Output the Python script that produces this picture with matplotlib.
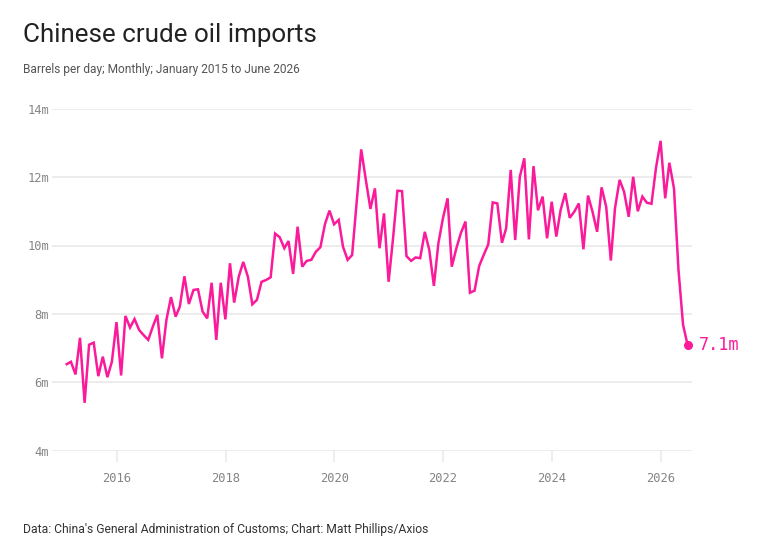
import numpy as np
import pandas as pd
import matplotlib
matplotlib.use("Agg")
import matplotlib.pyplot as plt
import matplotlib.dates as mdates

# monthly imports, million barrels per day (month-end dates)
months = pd.date_range("2015-01-31", periods=138, freq="ME")
imports = [
    6.53, 6.60, 6.23, 7.30, 5.40, 7.10, 7.16, 6.18, 6.75, 6.15, 6.60, 7.76,
    6.20, 7.94, 7.60, 7.85, 7.53, 7.38, 7.24, 7.63, 7.97, 6.70, 7.82, 8.49,
    7.92, 8.21, 9.10, 8.29, 8.70, 8.72, 8.07, 7.87, 8.91, 7.24, 8.91, 7.84,
    9.48, 8.33, 9.09, 9.52, 9.09, 8.28, 8.41, 8.94, 8.99, 9.07, 10.35, 10.24,
    9.92, 10.13, 9.17, 10.55, 9.38, 9.55, 9.58, 9.82, 9.95, 10.63, 11.02, 10.62,
    10.75, 9.96, 9.58, 9.72, 11.30, 12.81, 11.92, 11.07, 11.67, 9.92, 10.94, 8.94,
    10.26, 11.60, 11.59, 9.69, 9.55, 9.65, 9.63, 10.40, 9.87, 8.82, 10.06, 10.80,
    11.38, 9.38, 9.92, 10.36, 10.70, 8.62, 8.68, 9.40, 9.72, 10.03, 11.26, 11.23,
    10.08, 10.50, 12.21, 10.16, 12.01, 12.55, 10.18, 12.32, 11.03, 11.43, 10.21, 11.28,
    10.26, 11.04, 11.53, 10.81, 10.99, 11.23, 9.89, 11.46, 10.99, 10.40, 11.70, 11.13,
    9.56, 11.09, 11.92, 11.57, 10.84, 12.01, 11.00, 11.43, 11.25, 11.22, 12.26, 13.06,
    11.38, 12.42, 11.67, 9.30, 7.68, 7.10,
]
y_ticks = [4, 6, 8, 10, 12, 14]
y_labels = ["4m", "6m", "8m", "10m", "12m", "14m"]
x_years = [2016, 2018, 2020, 2022, 2024, 2026]
end_label = "7.1m"

pink = "#fa1a9a"
grid_col = "#ebebeb"
tick_col = "#858585"
mono = "DejaVu Sans Mono"
sans = "Roboto"

fig = plt.figure(figsize=(7.6, 5.55), dpi=100)
ax = fig.add_axes([52 / 760, (555 - 450.7) / 555, 640 / 760, 342 / 555])

ax.plot(months, imports, color=pink, lw=1.8, solid_joinstyle="miter", zorder=3)
ax.plot(months[-1], imports[-1], "o", color=pink, ms=5.5, zorder=4)
ax.annotate(end_label, (mdates.date2num(months[-1]), imports[-1]),
            xytext=(8, 0), textcoords="offset points", va="center", ha="left",
            color=pink, fontsize=12.2, family=mono)

x0 = mdates.date2num(pd.Timestamp("2015-01-01")) - 69
x1 = mdates.date2num(pd.Timestamp("2026-01-01")) + 210
ax.set_xlim(x0, x1)
ax.set_ylim(4, 14)

for v in y_ticks:
    ax.axhline(v, color=grid_col, lw=1.3, zorder=1)

ax.set_yticks(y_ticks)
ax.set_yticklabels(y_labels, family=mono, fontsize=8.7, color=tick_col)
ax.tick_params(axis="y", length=0, pad=2)

ax.set_xticks([mdates.date2num(pd.Timestamp(f"{y}-01-01")) for y in x_years])
ax.set_xticklabels([str(y) for y in x_years], family=mono, fontsize=8.7, color=tick_col)
ax.tick_params(axis="x", length=8, width=1.2, color=grid_col, pad=7)

for s in ax.spines.values():
    s.set_visible(False)
ax.set_facecolor("none")

fig.text(23 / 760, 1 - 35 / 555, "Chinese crude oil imports", family=sans,
         fontsize=18.7, color="#222222", va="center", ha="left")
fig.text(23 / 760, 1 - 70 / 555, "Barrels per day; Monthly; January 2015 to June 2026",
         family=sans, fontsize=8.6, color="#555555", va="center", ha="left")
fig.text(23 / 760, 1 - 530 / 555,
         "Data: China's General Administration of Customs; Chart: Matt Phillips/Axios",
         family=sans, fontsize=8.7, color="#333333", va="center", ha="left")

fig.savefig("out.png", dpi=100)
